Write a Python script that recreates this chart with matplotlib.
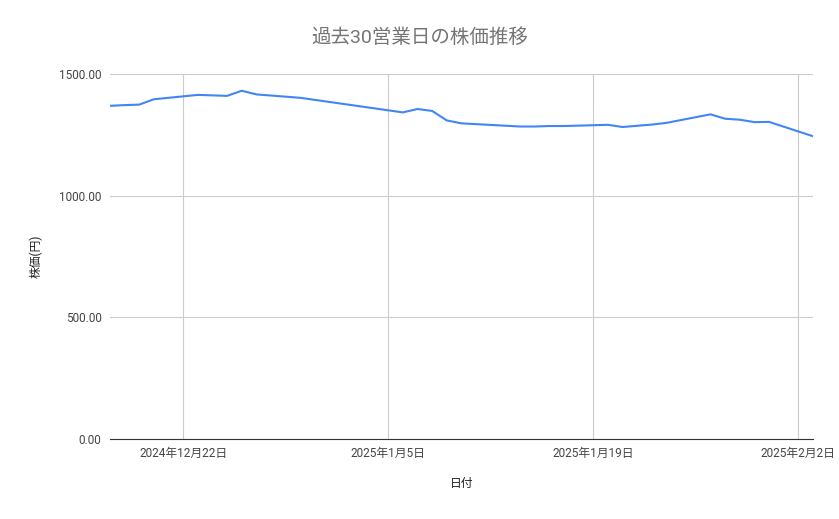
import matplotlib
matplotlib.use("Agg")
import matplotlib.pyplot as plt
import pandas as pd

plt.rcParams['font.family'] = ['Roboto', 'Noto Sans CJK JP', 'DejaVu Sans']

dates = ["2024-12-17","2024-12-18","2024-12-19","2024-12-20","2024-12-23","2024-12-25",
         "2024-12-26","2024-12-27","2024-12-30","2025-01-06","2025-01-07","2025-01-08",
         "2025-01-09","2025-01-10","2025-01-14","2025-01-15","2025-01-16","2025-01-17",
         "2025-01-20","2025-01-21","2025-01-22","2025-01-23","2025-01-24","2025-01-27",
         "2025-01-28","2025-01-29","2025-01-30","2025-01-31","2025-02-03"]
prices = [1370,1373,1375,1397,1415,1411,1432,1417,1403,1343,1357,1349,1310,1298,
          1285,1285,1287,1287,1292,1283,1288,1293,1300,1335,1317,1313,1303,1304,1245]
tick_dates = ["2024-12-22","2025-01-05","2025-01-19","2025-02-02"]
tick_labels = ["2024年12月22日","2025年1月5日","2025年1月19日","2025年2月2日"]
y_ticks = [0,500,1000,1500]

x = pd.to_datetime(dates)
fig = plt.figure(figsize=(8.39,5.19), dpi=100)
ax = fig.add_axes([0.131,0.154,0.838,0.703])
ax.plot(x, prices, color='#4285f4', lw=1.5)
ax.set_xlim(pd.Timestamp("2024-12-17"), pd.Timestamp("2025-02-03"))
ax.set_ylim(0,1500)
ax.set_yticks(y_ticks)
ax.set_yticklabels([f"{v:.2f}" for v in y_ticks])
ax.set_xticks(pd.to_datetime(tick_dates))
ax.set_xticklabels(tick_labels)
ax.grid(True, color='#cccccc', lw=0.8)
ax.set_axisbelow(True)
for s in ['top','right','left']:
    ax.spines[s].set_visible(False)
ax.spines['bottom'].set_color('#333333')
ax.tick_params(length=0, labelsize=8.5, colors='#444444', pad=6)
fig.text(0.5, 1-38/519, "過去30営業日の株価推移", fontsize=14, color='#757575', ha='center', va='center')
ax.set_xlabel("日付", fontsize=8.5, color='#222222', labelpad=12)
ax.set_ylabel("株価(円)", fontsize=8.5, color='#222222', labelpad=12)
fig.savefig("out.png", dpi=100)
